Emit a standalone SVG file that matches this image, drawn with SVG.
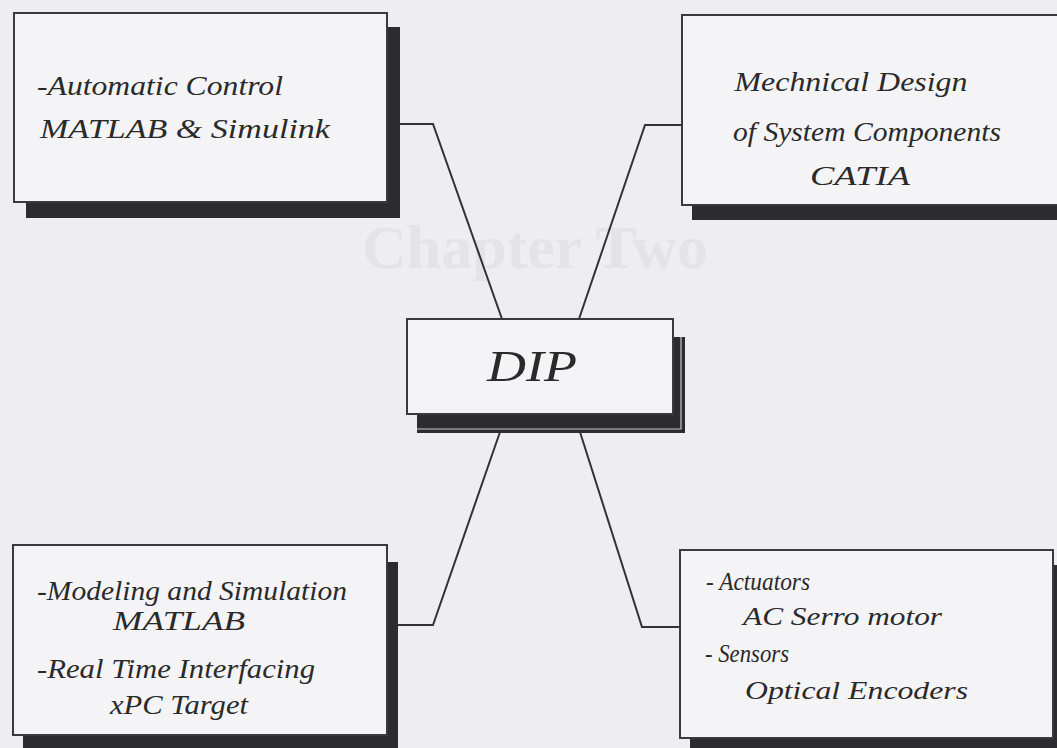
<svg xmlns="http://www.w3.org/2000/svg" width="1057" height="748" viewBox="0 0 1057 748">
<style>
.bg{fill:#eeeef1}
.box{fill:#f4f4f6;stroke:#3a3a3a;stroke-width:2}
.sh{fill:#2c2c2e}
.t{font-family:"Liberation Serif","Times New Roman",serif;font-style:italic;fill:#2a2a2a}
.wm{font-family:"Liberation Serif","Times New Roman",serif;font-weight:bold;fill:#e4e4e7}
.con{fill:none;stroke:#333;stroke-width:2}
</style>
<rect class="bg" x="0" y="0" width="1057" height="748"/>
<g id="watermark">
<text class="wm" x="535" y="268" font-size="62" text-anchor="middle">Chapter Two</text>
</g>
<g id="connectors">
<path class="con" d="M400 124 H433 L502 319"/>
<path class="con" d="M682 125 H645 L579 319"/>
<path class="con" d="M397 625 H433 L500 432"/>
<path class="con" d="M679 627 H642 L580 432"/>
</g>
<g id="node-control">
<rect class="sh" x="26" y="27" width="374" height="191"/>
<rect class="box" x="14" y="13" width="373" height="189"/>
<text class="t" x="37" y="95" font-size="27" textLength="246" lengthAdjust="spacingAndGlyphs">-Automatic Control</text>
<text class="t" x="40" y="138" font-size="27" textLength="290" lengthAdjust="spacingAndGlyphs">MATLAB &amp; Simulink</text>
</g>
<g id="node-design">
<rect class="sh" x="692" y="28" width="380" height="192"/>
<rect class="box" x="682" y="15" width="380" height="190"/>
<text class="t" x="851" y="91" font-size="27" text-anchor="middle" textLength="233" lengthAdjust="spacingAndGlyphs">Mechnical Design</text>
<text class="t" x="867" y="141" font-size="27" text-anchor="middle" textLength="268" lengthAdjust="spacingAndGlyphs">of System Components</text>
<text class="t" x="860" y="185" font-size="27" text-anchor="middle" textLength="100" lengthAdjust="spacingAndGlyphs">CATIA</text>
</g>
<g id="node-dip">
<rect class="sh" x="417" y="337" width="268" height="96"/>
<path d="M417 429 H681 V337" fill="none" stroke="#c9c9cc" stroke-width="1.2"/>
<rect class="box" x="407" y="319" width="266" height="95"/>
<text class="t" x="532" y="381" font-size="44" text-anchor="middle" textLength="90" lengthAdjust="spacingAndGlyphs">DIP</text>
</g>
<g id="node-modeling">
<rect class="sh" x="23" y="562" width="375" height="200"/>
<rect class="box" x="13" y="545" width="374" height="190"/>
<text class="t" x="37" y="600" font-size="27" textLength="310" lengthAdjust="spacingAndGlyphs">-Modeling and Simulation</text>
<text class="t" x="113" y="630" font-size="27" textLength="132" lengthAdjust="spacingAndGlyphs">MATLAB</text>
<text class="t" x="37" y="678" font-size="27" textLength="278" lengthAdjust="spacingAndGlyphs">-Real Time Interfacing</text>
<text class="t" x="110" y="714" font-size="27" textLength="138" lengthAdjust="spacingAndGlyphs">xPC Target</text>
</g>
<g id="node-hardware">
<rect class="sh" x="690" y="565" width="380" height="200"/>
<rect class="box" x="680" y="550" width="373" height="188"/>
<text class="t" x="706" y="590" font-size="25" textLength="104" lengthAdjust="spacingAndGlyphs">- Actuators</text>
<text class="t" x="743" y="625" font-size="25" textLength="199" lengthAdjust="spacingAndGlyphs">AC Serro motor</text>
<text class="t" x="705" y="662" font-size="25" textLength="84" lengthAdjust="spacingAndGlyphs">- Sensors</text>
<text class="t" x="745" y="699" font-size="25" textLength="223" lengthAdjust="spacingAndGlyphs">Optical Encoders</text>
</g>
</svg>
